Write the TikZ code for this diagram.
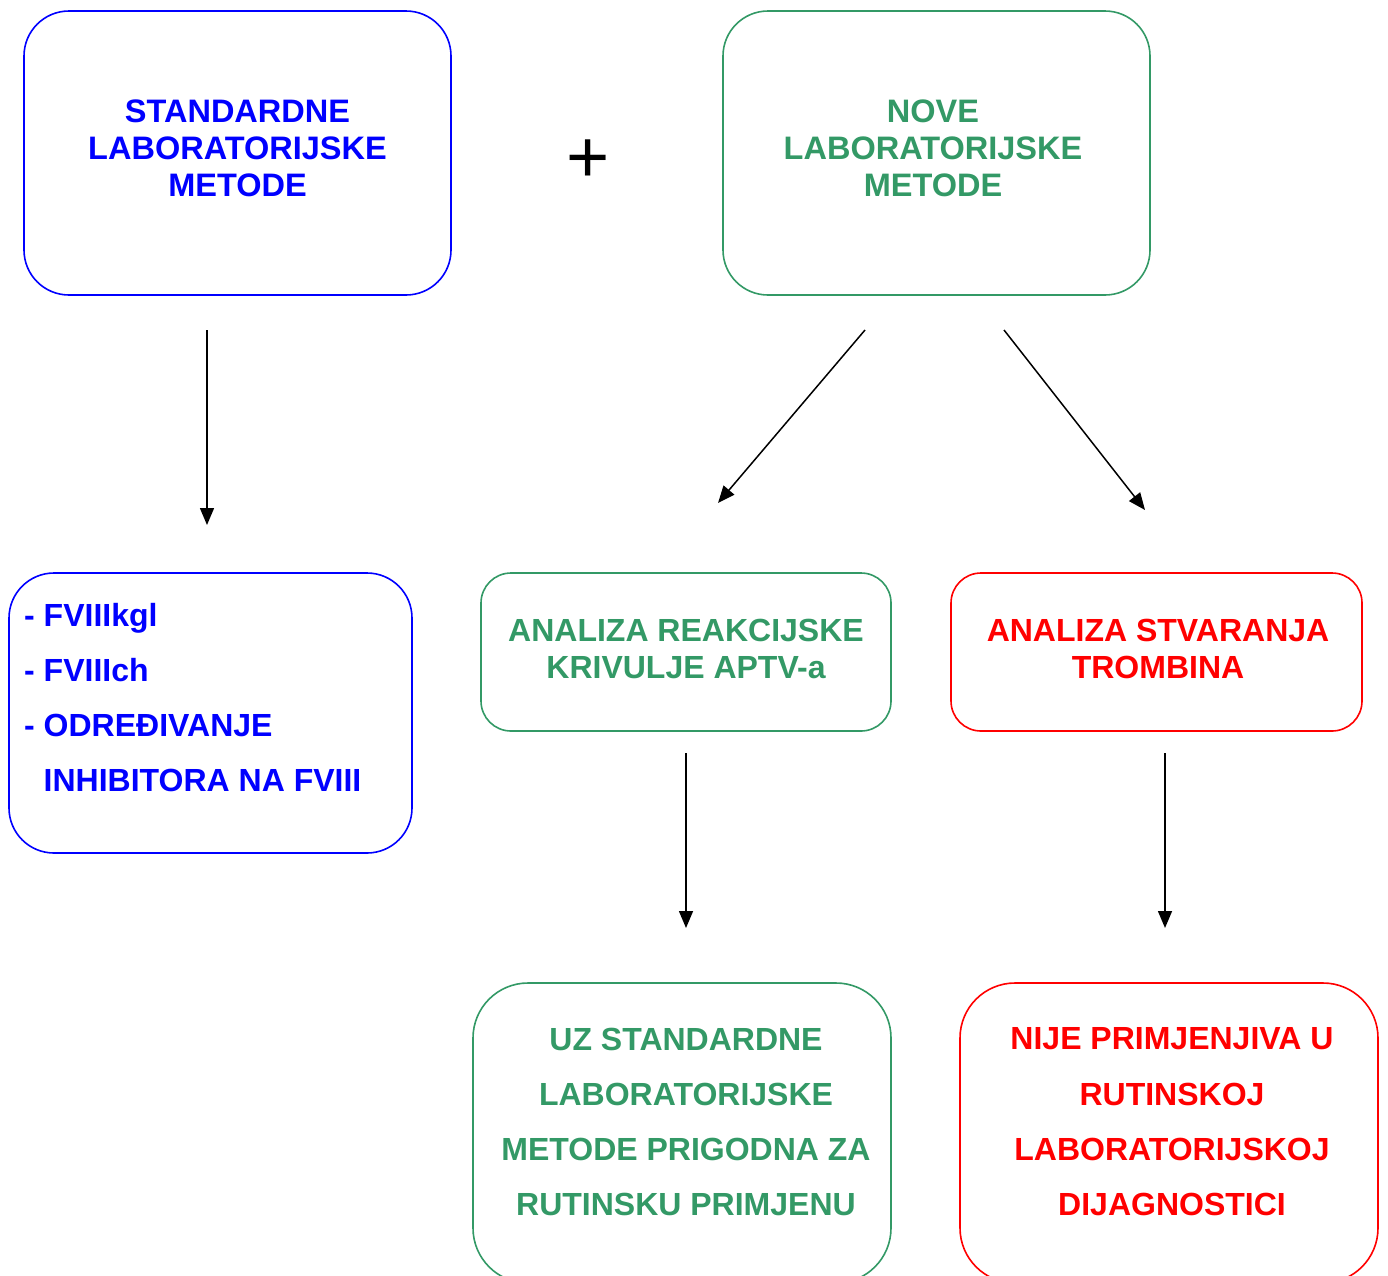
\documentclass[tikz,border=0pt]{standalone}
\usepackage{fontspec}
\setmainfont{Liberation Sans}
\usetikzlibrary{arrows.meta}
\definecolor{cblue}{HTML}{0000FF}
\definecolor{cgreen}{HTML}{339966}
\definecolor{cred}{HTML}{FF0000}
\tikzset{
  box/.style={draw, line width=1.6pt, rounded corners=#1, inner sep=0pt},
  box/.default=45pt,
  txt/.style={inner sep=0pt, align=center, font=\fontsize{32}{37}\selectfont\bfseries},
  txttop/.style={inner sep=0pt, align=center, font=\fontsize{32.5}{37}\selectfont\bfseries},
  txtwide/.style={inner sep=0pt, font=\fontsize{32}{55.3}\selectfont\bfseries},
  arr/.style={line width=1.5pt, -{Triangle[length=17pt,width=14pt]}}
}
\begin{document}
\begin{tikzpicture}[x=1pt,y=-1pt]
\useasboundingbox (0,0) rectangle (1388,1275);
% top boxes
\node[box, cblue, minimum width=427pt, minimum height=284pt] (b1) at (237.5,153) {};
\node[txttop, text=cblue] (t1) at (237.5,148) {STANDARDNE\\LABORATORIJSKE\\METODE};
\node[box, cgreen, minimum width=427pt, minimum height=284pt] (b2) at (936.5,153) {};
\node[txttop, text=cgreen] (t2) at (933,148) {NOVE\\LABORATORIJSKE\\METODE};
\node[inner sep=0pt, font=\fontsize{74}{74}\selectfont] (plus) at (588,161) {+};
% middle boxes
\node[box, cblue, minimum width=403pt, minimum height=280pt] (b3) at (210.5,713) {};
\node[txtwide, text=cblue, align=left, anchor=west] (t3) at (24,697.5) {- FVIIIkgl\\- FVIIIch\\- ODREĐIVANJE\\\hphantom{- }INHIBITORA NA FVIII};
\node[box=30pt, cgreen, minimum width=410pt, minimum height=158pt] (b4) at (686,652) {};
\node[txt, text=cgreen] (t4) at (686,648.5) {ANALIZA REAKCIJSKE\\KRIVULJE APTV-a};
\node[box=30pt, cred, minimum width=411pt, minimum height=158pt] (b5) at (1156.5,652) {};
\node[txt, text=cred] (t5) at (1158,648.5) {ANALIZA STVARANJA\\TROMBINA};
% bottom boxes (cut by page edge)
\node[box=55pt, cgreen, minimum width=418pt, minimum height=300pt] (b6) at (682,1133) {};
\node[txtwide, text=cgreen, align=center] (t6) at (686,1122) {UZ STANDARDNE\\LABORATORIJSKE\\METODE PRIGODNA ZA\\RUTINSKU PRIMJENU};
\node[box=55pt, cred, minimum width=418pt, minimum height=300pt] (b7) at (1169,1133) {};
\node[txtwide, text=cred, align=center] (t7) at (1172,1122) {NIJE PRIMJENJIVA U\\RUTINSKOJ\\LABORATORIJSKOJ\\DIJAGNOSTICI};
% arrow end points
\coordinate (a1s) at (207,330); \coordinate (a1e) at (207,525);
\coordinate (a2s) at (865,330); \coordinate (a2e) at (718,503);
\coordinate (a3s) at (1004,330); \coordinate (a3e) at (1145,510);
\coordinate (a4s) at (686,753); \coordinate (a4e) at (686,928);
\coordinate (a5s) at (1165,753); \coordinate (a5e) at (1165,928);
\draw[arr] (a1s) -- (a1e);
\draw[arr] (a2s) -- (a2e);
\draw[arr] (a3s) -- (a3e);
\draw[arr] (a4s) -- (a4e);
\draw[arr] (a5s) -- (a5e);
\end{tikzpicture}
\end{document}
